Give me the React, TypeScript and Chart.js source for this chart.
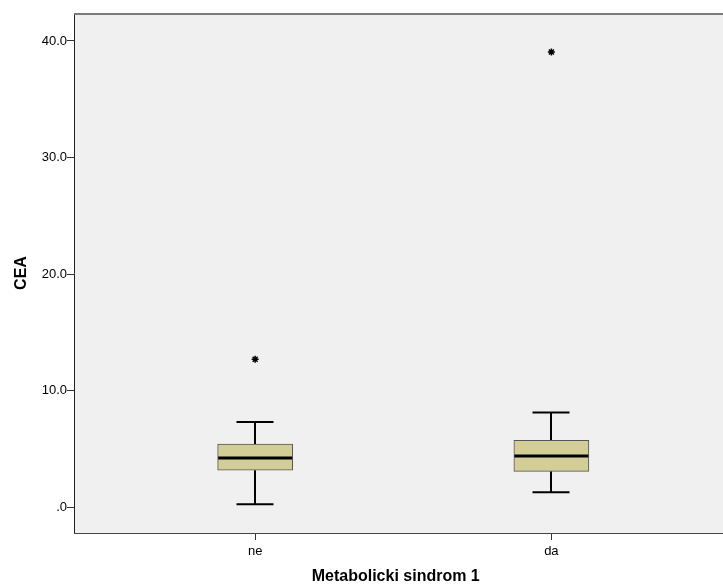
import React, { useEffect, useRef } from "react";
import { Chart, registerables } from "chart.js";

Chart.register(...registerables);

const categories = ["ne", "da"];
const whiskerLow = [0.26, 1.29];
const q1 = [3.18, 3.09];
const median = [4.23, 4.40];
const q3 = [5.43, 5.75];
const whiskerHigh = [7.32, 8.13];
const outliers = [
  { cat: 0, value: 12.7 },
  { cat: 1, value: 39.06 },
];
const yTicks = [0, 10, 20, 30, 40];

const FONT = "'Liberation Sans', Arial, sans-serif";

const boxPlugin = {
  id: "boxExtras",
  beforeDraw(chart: any) {
    const { ctx, chartArea } = chart;
    ctx.save();
    ctx.fillStyle = "#f0f0f0";
    ctx.fillRect(chartArea.left, chartArea.top, chart.width - chartArea.left, chartArea.bottom - chartArea.top);
    ctx.restore();
  },
  beforeDatasetsDraw(chart: any) {
    const { ctx } = chart;
    const xs = chart.scales.x;
    const ys = chart.scales.y;
    ctx.save();
    ctx.strokeStyle = "#000";
    ctx.lineWidth = 2;
    const capHalf = 18.5;
    categories.forEach((_, i) => {
      const x = Math.round(xs.getPixelForValue(i));
      const yLo = ys.getPixelForValue(whiskerLow[i]);
      const yQ1 = ys.getPixelForValue(q1[i]);
      const yQ3 = ys.getPixelForValue(q3[i]);
      const yHi = ys.getPixelForValue(whiskerHigh[i]);
      ctx.beginPath();
      ctx.moveTo(x, yLo);
      ctx.lineTo(x, yQ1);
      ctx.moveTo(x, yQ3);
      ctx.lineTo(x, yHi);
      ctx.moveTo(x - capHalf, yLo);
      ctx.lineTo(x + capHalf, yLo);
      ctx.moveTo(x - capHalf, yHi);
      ctx.lineTo(x + capHalf, yHi);
      ctx.stroke();
    });
    ctx.restore();
  },
  afterDatasetsDraw(chart: any) {
    const { ctx, chartArea } = chart;
    const xs = chart.scales.x;
    const ys = chart.scales.y;
    ctx.save();
    ctx.strokeStyle = "#000";
    ctx.lineWidth = 3;
    const boxHalf = 37;
    categories.forEach((_, i) => {
      const x = xs.getPixelForValue(i);
      const y = ys.getPixelForValue(median[i]);
      ctx.beginPath();
      ctx.moveTo(x - boxHalf, y);
      ctx.lineTo(x + boxHalf, y);
      ctx.stroke();
    });
    ctx.strokeStyle = "#7a7a7a";
    ctx.lineWidth = 2;
    ctx.beginPath();
    ctx.moveTo(chartArea.left, chartArea.top + 1);
    ctx.lineTo(chart.width, chartArea.top + 1);
    ctx.stroke();
    ctx.strokeStyle = "#444";
    ctx.lineWidth = 1;
    ctx.beginPath();
    ctx.moveTo(chartArea.left, chartArea.bottom + 0.5);
    ctx.lineTo(chart.width, chartArea.bottom + 0.5);
    ctx.stroke();
    ctx.restore();
  },
};

export default function App() {
  const ref = useRef<HTMLCanvasElement | null>(null);
  useEffect(() => {
    if (!ref.current) return;
    const chart = new Chart(ref.current, {
      type: "bar",
      data: {
        datasets: [
          {
            type: "bar",
            data: categories.map((_, i) => ({ x: i, y: [q1[i], q3[i]] })) as any,
            backgroundColor: "#d3ce97",
            borderColor: "#555555",
            borderWidth: 1,
            borderSkipped: false,
            barThickness: 75,
            grouped: false,
          } as any,
          {
            type: "scatter",
            data: outliers.map((o) => ({ x: o.cat, y: o.value })),
            pointStyle: "star",
            radius: 3.5,
            borderWidth: 1.5,
            borderColor: "#000",
            backgroundColor: "#000",
          } as any,
        ],
      },
      options: {
        animation: false,
        responsive: false,
        maintainAspectRatio: false,
        layout: { padding: { top: 13, left: 0, right: 0, bottom: 0 } },
        plugins: { legend: { display: false }, tooltip: { enabled: false } },
        scales: {
          x: {
            type: "linear",
            offset: false,
            min: -0.6115,
            max: 1.5608,
            afterBuildTicks: (s: any) => {
              s.ticks = categories.map((_, i) => ({ value: i }));
            },
            afterFit: (s: any) => {
              s.height = 55;
              s.paddingRight = 0;
              s.paddingLeft = 0;
            },
            ticks: {
              autoSkip: false,
              maxRotation: 0,
              padding: 4,
              color: "#000",
              font: { family: FONT, size: 13 },
              callback: (v: any) => categories[v] ?? "",
            },
            grid: { offset: false, drawOnChartArea: false, drawTicks: true, tickLength: 7, color: "#333", lineWidth: 1 },
            border: { display: true, color: "#444", width: 1 },
            title: {
              display: true,
              text: "Metabolicki sindrom 1",
              color: "#000",
              font: { family: FONT, size: 16, weight: "bold" },
              padding: { top: 4, bottom: 2 },
            },
          },
          y: {
            type: "linear",
            min: -2.2,
            max: 42.4,
            afterBuildTicks: (s: any) => {
              s.ticks = yTicks.map((v) => ({ value: v }));
            },
            afterFit: (s: any) => {
              s.width = 74;
            },
            ticks: {
              padding: 0,
              color: "#000",
              font: { family: FONT, size: 13 },
              callback: (v: any) => (v === 0 ? ".0" : Number(v).toFixed(1)),
            },
            grid: { drawOnChartArea: false, drawTicks: true, tickLength: 7, color: "#333", lineWidth: 1 },
            border: { display: true, color: "#222", width: 1 },
            title: {
              display: true,
              text: "CEA",
              color: "#000",
              font: { family: FONT, size: 16, weight: "bold" },
              padding: { top: 12, bottom: 0 },
            },
          },
        },
      } as any,
      plugins: [boxPlugin],
    });
    return () => chart.destroy();
  }, []);
  return (
    <div style={{ position: "absolute", left: 0, top: 0, width: 723, height: 588, background: "#fff" }}>
      <canvas ref={ref} width={723} height={588} style={{ display: "block" }} />
    </div>
  );
}
